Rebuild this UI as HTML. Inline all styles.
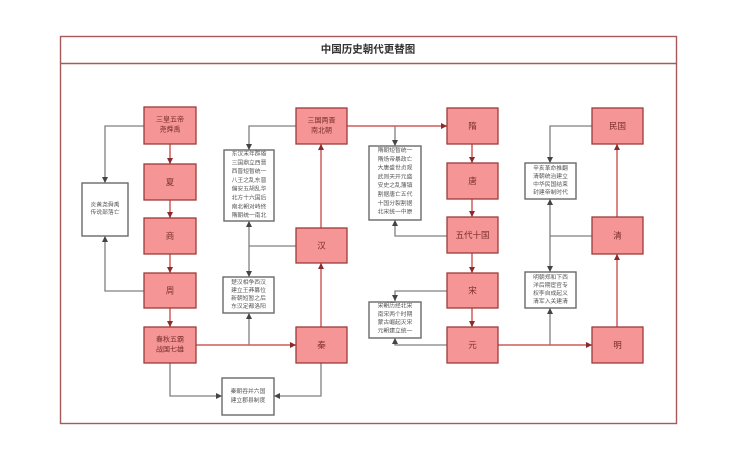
<!DOCTYPE html>
<html>
<head>
<meta charset="utf-8">
<style>
  html,body{margin:0;padding:0;background:#fff;}
  svg{display:block;}
  text{font-family:"Liberation Sans","Noto Sans CJK SC",sans-serif;}
</style>
</head>
<body>
<svg width="741" height="455" viewBox="0 0 741 455" xmlns="http://www.w3.org/2000/svg">
  <defs>
    <marker id="ar" markerUnits="userSpaceOnUse" markerWidth="7" markerHeight="7" refX="6" refY="3.5" orient="auto">
      <path d="M0,0.5 L6,3.5 L0,6.5 Z" fill="#8a2a2a"/>
    </marker>
    <marker id="ag" markerUnits="userSpaceOnUse" markerWidth="7" markerHeight="7" refX="6" refY="3.5" orient="auto">
      <path d="M0,0.5 L6,3.5 L0,6.5 Z" fill="#444"/>
    </marker>
  </defs>
  <rect x="0" y="0" width="741" height="455" fill="#fff"/>

  <!-- frame -->
  <rect x="60.5" y="36.5" width="616" height="387" fill="#fff" stroke="#a65a5a" stroke-width="1.4"/>
  <line x1="60.5" y1="63.5" x2="676.5" y2="63.5" stroke="#a65a5a" stroke-width="1.4"/>
  <text x="368" y="49.5" font-size="10.5" font-weight="bold" fill="#333" text-anchor="middle" dominant-baseline="central">中国历史朝代更替图</text>

  <!-- gray connectors -->
  <g fill="none" stroke="#808080" stroke-width="1.3">
    <polyline points="144,126 105,126 105,183" marker-end="url(#ag)"/>
    <polyline points="144,291 105,291 105,236" marker-end="url(#ag)"/>
    <polyline points="170,363 170,396 222,396" marker-end="url(#ag)"/>
    <polyline points="296,126 249,126 249,150" marker-end="url(#ag)"/>
    <polyline points="296,246 249,246 249,221" marker-end="url(#ag)"/>
    <polyline points="249,246 249,277" marker-end="url(#ag)"/>
    <polyline points="249,345 249,313" marker-end="url(#ag)"/>
    <polyline points="321,363 321,396 274,396" marker-end="url(#ag)"/>
    <polyline points="395,126 395,146" marker-end="url(#ag)"/>
    <polyline points="447,236 395,236 395,220" marker-end="url(#ag)"/>
    <polyline points="447,291 395,291 395,301" marker-end="url(#ag)"/>
    <polyline points="447,345 395,345 395,338" marker-end="url(#ag)"/>
    <polyline points="592,126 550,126 550,163" marker-end="url(#ag)"/>
    <polyline points="592,236 550,236 550,199" marker-end="url(#ag)"/>
    <polyline points="550,236 550,272" marker-end="url(#ag)"/>
    <polyline points="550,345 550,308" marker-end="url(#ag)"/>
  </g>

  <!-- red connectors -->
  <g fill="none" stroke="#cf5c5c" stroke-width="1.5">
    <line x1="170" y1="144" x2="170" y2="164" marker-end="url(#ar)"/>
    <line x1="170" y1="200" x2="170" y2="218" marker-end="url(#ar)"/>
    <line x1="170" y1="254" x2="170" y2="273" marker-end="url(#ar)"/>
    <line x1="170" y1="308" x2="170" y2="327" marker-end="url(#ar)"/>
    <line x1="196" y1="345" x2="296" y2="345" marker-end="url(#ar)"/>
    <line x1="321" y1="327" x2="321" y2="263" marker-end="url(#ar)"/>
    <line x1="321" y1="228" x2="321" y2="144" marker-end="url(#ar)"/>
    <line x1="347" y1="126" x2="447" y2="126" marker-end="url(#ar)"/>
    <line x1="472" y1="144" x2="472" y2="163" marker-end="url(#ar)"/>
    <line x1="472" y1="199" x2="472" y2="217" marker-end="url(#ar)"/>
    <line x1="472" y1="253" x2="472" y2="273" marker-end="url(#ar)"/>
    <line x1="472" y1="308" x2="472" y2="327" marker-end="url(#ar)"/>
    <line x1="498" y1="345" x2="592" y2="345" marker-end="url(#ar)"/>
    <line x1="617" y1="327" x2="617" y2="254" marker-end="url(#ar)"/>
    <line x1="617" y1="217" x2="617" y2="144" marker-end="url(#ar)"/>
  </g>

  <!-- main boxes -->
  <g fill="#f59595" stroke="#9e3b3b" stroke-width="1.3">
    <rect x="144" y="107" width="52" height="37"/>
    <rect x="144" y="164" width="52" height="36"/>
    <rect x="144" y="218" width="52" height="36"/>
    <rect x="144" y="273" width="52" height="35"/>
    <rect x="144" y="327" width="52" height="36"/>
    <rect x="296" y="108" width="51" height="36"/>
    <rect x="296" y="228" width="51" height="35"/>
    <rect x="296" y="327" width="51" height="36"/>
    <rect x="447" y="108" width="51" height="36"/>
    <rect x="447" y="163" width="51" height="36"/>
    <rect x="447" y="217" width="51" height="36"/>
    <rect x="447" y="273" width="51" height="35"/>
    <rect x="447" y="327" width="51" height="36"/>
    <rect x="592" y="108" width="51" height="36"/>
    <rect x="592" y="217" width="51" height="37"/>
    <rect x="592" y="327" width="51" height="36"/>
  </g>
  <g fill="#7a2e2e" text-anchor="middle" dominant-baseline="central">
    <text x="170" y="120" font-size="7">三皇五帝</text>
    <text x="170" y="130" font-size="7">尧舜禹</text>
    <text x="170" y="182" font-size="8.5">夏</text>
    <text x="170" y="236" font-size="8.5">商</text>
    <text x="170" y="290.5" font-size="8.5">周</text>
    <text x="170" y="340" font-size="7">春秋五霸</text>
    <text x="170" y="350" font-size="7">战国七雄</text>
    <text x="321.5" y="121" font-size="7">三国两晋</text>
    <text x="321.5" y="131" font-size="7">南北朝</text>
    <text x="321.5" y="245.5" font-size="8.5">汉</text>
    <text x="321.5" y="345" font-size="8.5">秦</text>
    <text x="472.5" y="126" font-size="8.5">隋</text>
    <text x="472.5" y="181" font-size="8.5">唐</text>
    <text x="472.5" y="235" font-size="8.5">五代十国</text>
    <text x="472.5" y="290.5" font-size="8.5">宋</text>
    <text x="472.5" y="345" font-size="8.5">元</text>
    <text x="617.5" y="126" font-size="8.5">民国</text>
    <text x="617.5" y="235.5" font-size="8.5">清</text>
    <text x="617.5" y="345" font-size="8.5">明</text>
  </g>

  <!-- text boxes -->
  <g fill="#fff" stroke="#6a6a6a" stroke-width="1.4">
    <rect x="82" y="183" width="46" height="53"/>
    <rect x="224" y="150" width="50" height="71"/>
    <rect x="223" y="277" width="51" height="36"/>
    <rect x="222" y="378" width="52" height="37"/>
    <rect x="369" y="146" width="52" height="74"/>
    <rect x="369" y="302" width="52" height="36"/>
    <rect x="525" y="163" width="51" height="36"/>
    <rect x="525" y="272" width="51" height="36"/>
  </g>
  <g fill="#555" font-size="5.8" text-anchor="middle" dominant-baseline="central">
    <text x="105" y="205.5">炎黄尧舜禹</text>
    <text x="105" y="213">传说部落亡</text>

    <text x="249" y="154.5">东汉末年群雄</text>
    <text x="249" y="163.3">三国鼎立西晋</text>
    <text x="249" y="172.1">西晋短暂统一</text>
    <text x="249" y="180.9">八王之乱东晋</text>
    <text x="249" y="189.7">偏安五胡乱华</text>
    <text x="249" y="198.5">北方十六国后</text>
    <text x="249" y="207.3">南北朝对峙终</text>
    <text x="249" y="216.1">隋朝统一南北</text>

    <text x="248.5" y="283">楚汉相争西汉</text>
    <text x="248.5" y="291">建立王莽篡位</text>
    <text x="248.5" y="299">新朝短暂之后</text>
    <text x="248.5" y="307">东汉定都洛阳</text>

    <text x="248" y="392">秦朝吞并六国</text>
    <text x="248" y="401">建立郡县制度</text>

    <text x="395" y="151">隋朝短暂统一</text>
    <text x="395" y="159.8">隋炀帝暴政亡</text>
    <text x="395" y="168.6">大唐盛世贞观</text>
    <text x="395" y="177.4">武则天开元盛</text>
    <text x="395" y="186.2">安史之乱藩镇</text>
    <text x="395" y="195">割据唐亡五代</text>
    <text x="395" y="203.8">十国分裂割据</text>
    <text x="395" y="212.6">北宋统一中原</text>

    <text x="395" y="306.5">宋朝历经北宋</text>
    <text x="395" y="314.8">南宋两个时期</text>
    <text x="395" y="323.1">蒙古崛起灭宋</text>
    <text x="395" y="331.4">元朝建立统一</text>

    <text x="550.5" y="169">辛亥革命推翻</text>
    <text x="550.5" y="177">清朝统治建立</text>
    <text x="550.5" y="185">中华民国结束</text>
    <text x="550.5" y="193">封建帝制时代</text>

    <text x="550.5" y="278">明朝郑和下西</text>
    <text x="550.5" y="286">洋后期宦官专</text>
    <text x="550.5" y="294">权李自成起义</text>
    <text x="550.5" y="302">清军入关建清</text>
  </g>
</svg>
</body>
</html>
